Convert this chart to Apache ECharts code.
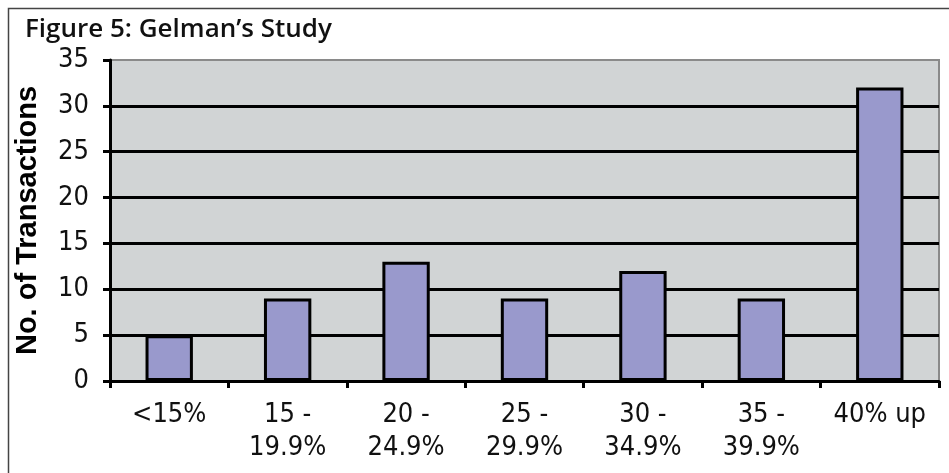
<!DOCTYPE html>
<html>
<head>
<meta charset="utf-8">
<title>Figure 5: Gelman’s Study</title>
<script src="https://cdn.jsdelivr.net/npm/echarts@6/dist/echarts.min.js"></script>
<style>
  html, body { margin: 0; padding: 0; background: #ffffff; }
  #chart { width: 949px; height: 473px; }
</style>
</head>
<body>
<div id="chart"></div>
<script>
// Discount ranges and how many transactions fell in each
const categories = ['<15%', '15 -\n19.9%', '20 -\n24.9%', '25 -\n29.9%', '30 -\n34.9%', '35 -\n39.9%', '40% up'];
const transactions = [5, 9, 13, 9, 12, 9, 32];
const yTicks = { min: 0, max: 35, interval: 5 };

const narrow = "'Liberation Sans Narrow', 'Arial Narrow', 'DejaVu Sans Condensed', 'Liberation Sans', sans-serif";

const chart = echarts.init(document.getElementById('chart'), null, { renderer: 'canvas' });

chart.setOption({
  animation: false,
  backgroundColor: '#ffffff',
  title: {
    text: 'Figure 5: Gelman’s Study',
    left: 20,
    top: 12,
    textStyle: {
      fontFamily: "'Open Sans', 'DejaVu Sans', sans-serif",
      fontWeight: 600,
      fontSize: 26,
      color: '#111'
    }
  },
  graphic: [{
    // frame around the whole figure
    type: 'rect',
    shape: { x: 8.5, y: 8.5, width: 960, height: 480 },
    style: { fill: 'none', stroke: '#444', lineWidth: 1.5 },
    silent: true,
    z: -1
  }],
  grid: {
    left: 110,
    top: 60,
    right: 10,
    bottom: 92,
    show: true,
    backgroundColor: '#D1D4D5',
    borderColor: '#8a8a8a',
    borderWidth: 2
  },
  xAxis: {
    type: 'category',
    data: categories,
    boundaryGap: true,
    axisLine: { lineStyle: { color: '#000', width: 3 } },
    axisTick: { show: true, length: 7, lineStyle: { color: '#000', width: 3 } },
    axisLabel: {
      margin: 17,
      interval: 0,
      fontFamily: narrow,
      fontSize: 27,
      lineHeight: 33,
      color: '#111'
    }
  },
  yAxis: {
    type: 'value',
    min: yTicks.min,
    max: yTicks.max,
    interval: yTicks.interval,
    name: 'No. of Transactions',
    nameLocation: 'middle',
    nameGap: 68,
    nameRotate: 90,
    nameTextStyle: {
      fontFamily: "'Liberation Sans', Arial, sans-serif",
      fontWeight: 'bold',
      fontSize: 29,
      color: '#000'
    },
    axisLine: { show: true, lineStyle: { color: '#000', width: 3 } },
    axisTick: { show: true, length: 7, lineStyle: { color: '#000', width: 3 } },
    axisLabel: {
      margin: 21,
      fontFamily: narrow,
      fontSize: 27,
      color: '#111'
    },
    splitLine: {
      show: true,
      showMinLine: false,
      showMaxLine: false,
      lineStyle: { color: '#000', width: 3 }
    }
  },
  series: [{
    type: 'bar',
    data: transactions,
    barWidth: '40%',
    itemStyle: {
      color: '#9999CC',
      borderColor: '#000',
      borderWidth: 3
    }
  }]
});
</script>
</body>
</html>
